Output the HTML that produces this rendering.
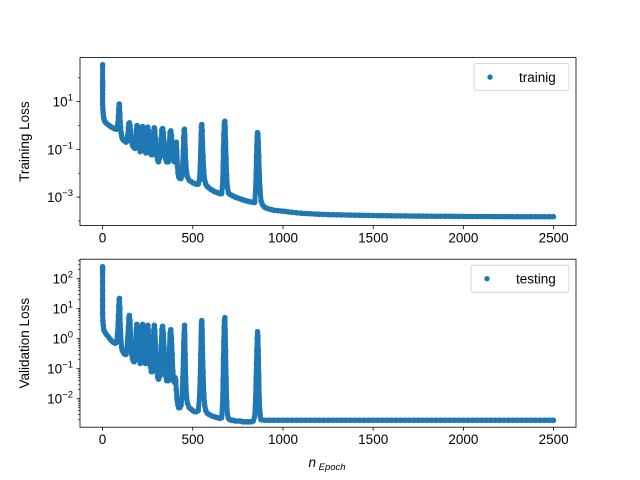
<!DOCTYPE html>
<html><head><meta charset="utf-8"><style>
body{margin:0;background:#fff}
svg{display:block;font-family:"Liberation Sans","DejaVu Sans",sans-serif}
</style></head><body>
<svg id="chart" width="640" height="480" viewBox="0 0 640 480" xmlns="http://www.w3.org/2000/svg">
<rect width="640" height="480" fill="#fff"/>
<g id="top"></g><g id="bot"></g>
</svg>
<script>
const xTicks=[0,500,1000,1500,2000,2500];
const trainEpochs=[0,0,0,0,0,0,0,0,2,3,5,7,10,15,20,30,40,50,60,70,78,85,88,90,92,94,96,98,100,103,106,110,115,120,125,130,135,140,143,146,149,152,155,158,162,166,170,175,180,185,188,191,194,197,200,204,208,212,216,219,222,225,228,232,236,240,245,248,251,254,257,261,265,270,275,280,284,287,290,294,298,302,306,310,320,325,329,333,337,341,345,350,355,365,370,374,378,382,386,390,394,398,402,406,409,412,415,418,422,428,435,440,445,448,450,452,454,456,458,461,465,470,480,490,500,510,520,530,537,541,544,546,548,550,552,554,557,561,566,572,580,590,600,610,620,630,640,650,660,665,668,670,672,674,676,678,680,682,685,688,692,698,705,715,725,735,745,755,765,775,785,795,805,815,825,835,843,848,851,853,855,857,859,861,863,866,869,873,878,885,895,905,920,935,950,970,990,1010,1030,1050,1075,1100,1125,1150,1175,1200,1225,1250,1275,1300,1325,1350,1375,1400,1425,1450,1475,1500,1525,1550,1575,1600,1625,1650,1675,1700,1725,1750,1775,1800,1825,1850,1875,1900,1925,1950,1975,2000,2025,2050,2075,2100,2125,2150,2175,2200,2225,2250,2275,2300,2325,2350,2375,2400,2425,2450,2475,2499];
const trainLoss=[350,70,60,45,30,20,12,8,5,3.5,2.5,2,1.6,1.4,1.25,1.1,0.95,0.85,0.78,0.72,0.7,1.2,2.5,5,8,6,3,1.5,0.8,0.5,0.35,0.28,0.25,0.23,0.22,0.2,0.22,0.4,0.8,1.2,1.3,1.0,0.6,0.35,0.2,0.15,0.13,0.12,0.11,0.3,0.7,1.0,0.9,0.5,0.25,0.12,0.08,0.1,0.4,0.8,0.9,0.7,0.35,0.15,0.08,0.07,0.3,0.7,0.85,0.6,0.3,0.12,0.07,0.06,0.06,0.2,0.6,0.8,0.6,0.25,0.1,0.05,0.035,0.03,0.05,0.3,0.65,0.75,0.5,0.2,0.08,0.04,0.03,0.03,0.15,0.5,0.6,0.4,0.15,0.06,0.035,0.03,0.04,0.1,0.2,0.08,0.02,0.01,0.007,0.006,0.006,0.008,0.03,0.1,0.3,0.6,0.7,0.4,0.1,0.03,0.012,0.007,0.005,0.0045,0.004,0.0037,0.0035,0.0035,0.005,0.02,0.1,0.4,0.9,1.1,0.6,0.2,0.05,0.012,0.005,0.0035,0.0028,0.0024,0.0021,0.0019,0.0017,0.0016,0.0015,0.0014,0.0014,0.003,0.02,0.1,0.4,1.0,1.4,1.5,0.8,0.2,0.04,0.008,0.0025,0.0015,0.0013,0.0012,0.0011,0.001,0.00095,0.00088,0.00083,0.00078,0.00074,0.0007,0.00067,0.00064,0.00062,0.0006,0.0006,0.002,0.01,0.05,0.15,0.35,0.5,0.45,0.2,0.05,0.01,0.002,0.0007,0.0005,0.0004,0.00035,0.00032,0.0003,0.00028,0.00027,0.00026,0.00025,0.00024,0.00023,2.2e-4,2.1e-4,2.05e-4,2.0e-4,1.95e-4,1.9e-4,1.88e-4,1.85e-4,1.83e-4,1.8e-4,1.78e-4,1.77e-4,1.75e-4,1.74e-4,1.72e-4,1.71e-4,1.7e-4,1.68e-4,1.67e-4,1.66e-4,1.65e-4,1.64e-4,1.63e-4,1.62e-4,1.62e-4,1.61e-4,1.6e-4,1.6e-4,1.59e-4,1.58e-4,1.58e-4,1.57e-4,1.57e-4,1.56e-4,1.56e-4,1.55e-4,1.55e-4,1.55e-4,1.54e-4,1.54e-4,1.54e-4,1.53e-4,1.53e-4,1.53e-4,1.52e-4,1.52e-4,1.52e-4,1.52e-4,1.51e-4,1.51e-4,1.51e-4,1.51e-4,1.5e-4,1.5e-4,1.5e-4,1.5e-4,1.5e-4,1.5e-4,1.5e-4,1.5e-4,1.5e-4,1.5e-4,1.5e-4,1.5e-4,1.5e-4];
const testEpochs=[0,0,0,0,0,0,0,0,2,4,7,12,20,30,40,50,60,70,78,83,86,88,90,92,94,96,98,100,103,106,110,115,120,125,130,135,139,143,146,149,152,155,158,162,166,170,175,180,184,187,190,193,196,200,204,208,212,216,219,222,225,228,232,236,240,245,248,251,254,257,261,265,270,275,280,284,287,290,294,298,302,306,310,320,325,329,333,337,341,345,350,355,365,370,374,378,382,386,390,394,398,402,406,409,412,415,418,422,428,435,440,445,448,450,452,454,456,458,461,465,470,480,490,500,510,520,530,537,541,544,546,548,550,552,554,557,561,566,572,580,590,600,610,620,630,640,650,660,665,668,670,672,674,676,678,680,682,685,688,692,698,705,715,725,735,745,755,765,775,785,795,805,815,825,835,843,848,851,853,855,857,859,861,863,866,869,873,878,900,925,950,975,1000,1025,1050,1075,1100,1125,1150,1175,1200,1225,1250,1275,1300,1325,1350,1375,1400,1425,1450,1475,1500,1525,1550,1575,1600,1625,1650,1675,1700,1725,1750,1775,1800,1825,1850,1875,1900,1925,1950,1975,2000,2025,2050,2075,2100,2125,2150,2175,2200,2225,2250,2275,2300,2325,2350,2375,2400,2425,2450,2475,2499];
const testLoss=[250,200,150,80,40,20,12,7,4,2.8,2.0,1.7,1.4,1.2,1.0,0.85,0.75,0.7,0.75,1.5,3,6,12,20,22,10,3,1.5,0.8,0.5,0.4,0.35,0.32,0.3,0.3,0.4,1.0,2.5,5,6,4,1.5,0.6,0.3,0.22,0.18,0.17,0.2,0.8,2,3,2.5,1.0,0.4,0.2,0.15,0.2,1.0,2.5,3,2,0.8,0.3,0.15,0.15,0.8,2,2.8,1.8,0.7,0.25,0.12,0.08,0.08,0.5,2,2.8,1.8,0.6,0.2,0.08,0.05,0.045,0.06,0.5,2,2.6,1.5,0.5,0.15,0.06,0.04,0.04,0.3,1.5,2,1.0,0.3,0.08,0.04,0.035,0.05,0.04,0.02,0.01,0.008,0.006,0.005,0.005,0.006,0.01,0.05,0.2,0.7,1.5,2.8,1.5,0.3,0.05,0.012,0.007,0.005,0.0045,0.004,0.0037,0.0037,0.004,0.01,0.05,0.3,1.2,3,4,2,0.5,0.08,0.015,0.006,0.004,0.0033,0.003,0.0028,0.0026,0.0025,0.0024,0.0023,0.0022,0.0023,0.006,0.04,0.2,0.8,2.5,4,5,2,0.4,0.05,0.008,0.003,0.0022,0.002,0.0019,0.0019,0.0018,0.0018,0.0018,0.0018,0.0017,0.0017,0.0017,0.0017,0.0017,0.0017,0.0018,0.0025,0.01,0.05,0.15,0.4,1.0,1.7,1.2,0.4,0.06,0.01,0.003,0.002,0.0019,0.0019,0.0019,0.0019,0.0019,0.0019,0.0019,0.0019,0.0019,0.0019,0.0019,0.0019,0.0019,0.0019,0.0019,0.0019,0.0019,0.0019,0.0019,0.0019,0.0019,0.0019,0.0019,0.0019,0.0019,0.0019,0.0019,0.0019,0.0019,0.0019,0.0019,0.0019,0.0019,0.0019,0.0019,0.0019,0.0019,0.0019,0.0019,0.0019,0.0019,0.0019,0.0019,0.0019,0.0019,0.0019,0.0019,0.0019,0.0019,0.0019,0.0019,0.0019,0.0019,0.0019,0.0019,0.0019,0.0019,0.0019,0.0019,0.0019,0.0019,0.0019,0.0019,0.0019,0.0019,0.0019,0.0019,0.0019,0.0019,0.0019];
const topMajorExp=[1,-1,-3];
const topMinorExp=[2,0,-2,-4];
const botMajorExp=[2,1,0,-1,-2];

const NS="http://www.w3.org/2000/svg";
function mk(parent,tag,attrs){const e=document.createElementNS(NS,tag);for(const k in attrs)e.setAttribute(k,attrs[k]);parent.appendChild(e);return e;}
const L=80,R=576,XMIN=-125,XMAX=2624;
function xs(v){return L+(v-XMIN)/(XMAX-XMIN)*(R-L);}
function panel(g,top,bottom,lmin,lmax,epochs,vals,majors,minors,ylabel,legendText,legW){
  const ys=v=>bottom-(Math.log10(v)-lmin)/(lmax-lmin)*(bottom-top);
  const ye=e=>bottom-(e-lmin)/(lmax-lmin)*(bottom-top);
  const n=Math.min(epochs.length,vals.length);
  const pts=mk(g,'g',{});
  
  
  let d='';
  for(let i=0;i<n;i++){d+=(i?'L':'M')+xs(epochs[i]).toFixed(1)+' '+ys(vals[i]).toFixed(1);}
  const band=mk(pts,'path',{d:d,fill:'none',stroke:'#1f77b4','stroke-width':5,'stroke-linejoin':'round','stroke-linecap':'round'});
  
  
  for(let i=0;i<n;i++){
    const c=mk(pts,'circle',{cx:xs(epochs[i]).toFixed(1),cy:ys(vals[i]).toFixed(1),r:2.8,fill:'#1f77b4'});
    
    
  }
  const fr=mk(g,'rect',{x:L,y:top,width:R-L,height:bottom-top,fill:'none',stroke:'#000','stroke-width':0.8});
  
  
  xTicks.forEach(t=>{
    const x=xs(t);
    mk(g,'line',{x1:x,x2:x,y1:bottom,y2:bottom+3.5,stroke:'#000','stroke-width':0.8});
    const tx=mk(g,'text',{x:x,y:bottom+17,'text-anchor':'middle','font-size':13.5,fill:'#000'});
    tx.textContent=t;
    
    
  });
  majors.forEach(e=>{
    const y=ye(e);
    mk(g,'line',{x1:L-3.5,x2:L,y1:y,y2:y,stroke:'#000','stroke-width':0.8});
    const tx=mk(g,'text',{x:L-7,y:y+5,'text-anchor':'end','font-size':13.5,fill:'#000'});
    tx.innerHTML='10<tspan dy="-6" font-size="9.5">'+(e<0?'−'+(-e):e)+'</tspan>';
    
    
  });
  minors.forEach(e=>{
    for(let m=1;m<10;m++){
      const lv=e+Math.log10(m);
      if(m===1&&majors.includes(e))continue;
      if(lv<lmin||lv>lmax)continue;
      const y=ye(lv);
      mk(g,'line',{x1:L-2,x2:L,y1:y,y2:y,stroke:'#000','stroke-width':0.6});
    }
  });
  const yl=mk(g,'text',{x:0,y:0,'text-anchor':'middle','font-size':13.5,fill:'#000',transform:`translate(29,${(top+bottom)/2}) rotate(-90)`});
  yl.textContent=ylabel;
  
  
  const lg=mk(g,'g',{});
  
  
  mk(lg,'rect',{x:R-7-legW,y:top+6,width:legW,height:27,rx:2,fill:'#fff',stroke:'#ccc','stroke-width':0.8});
  mk(lg,'circle',{cx:R-7-legW+16,cy:top+19.5,r:2.7,fill:'#1f77b4'});
  const lt=mk(lg,'text',{x:R-7-legW+45,y:top+24.5,'font-size':13.5,fill:'#000'});
  lt.textContent=legendText;
}
const topG=document.getElementById('top'),botG=document.getElementById('bot');




panel(topG,57.6,225.6,-4.196,2.846,trainEpochs,trainLoss,topMajorExp,[],'Training Loss','trainig',95);
topMinorExp.forEach(e=>{const y=225.6-(e+4.196)/7.042*168;mk(topG,'line',{x1:L-2,x2:L,y1:y,y2:y,stroke:'#000','stroke-width':0.6});});
panel(botG,259.2,427.2,-2.95,2.65,testEpochs,testLoss,botMajorExp,[2,1,0,-1,-2,-3],'Validation Loss','testing',98);
const xl=mk(botG,'text',{x:327,y:467,'text-anchor':'middle','font-size':13.5,'font-style':'italic',fill:'#000'});
xl.innerHTML='n<tspan dy="3" font-size="9.5"> Epoch</tspan>';


</script>
</body></html>
